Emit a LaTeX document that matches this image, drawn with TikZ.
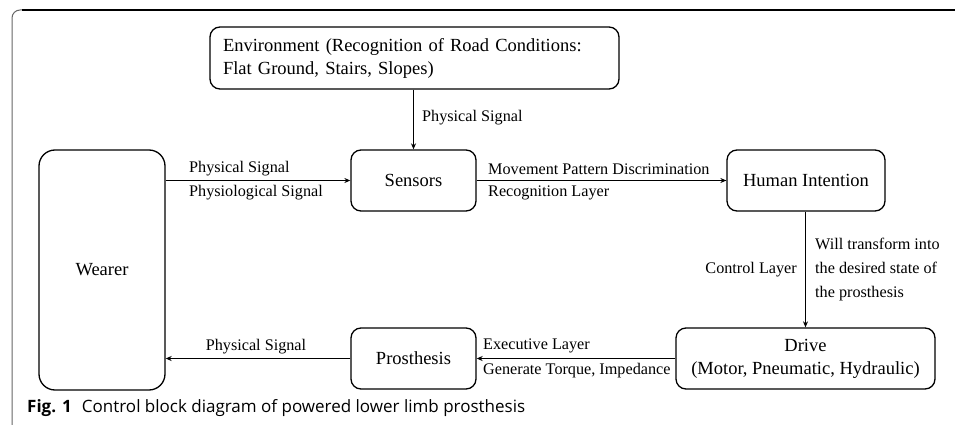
\documentclass[tikz,border=0pt]{standalone}
\usepackage{fontspec}
\setmainfont{Liberation Serif}
\newfontfamily\capfont{Open Sans}
\usetikzlibrary{arrows.meta}
\begin{document}
\begin{tikzpicture}[x=1pt,y=-1pt,
  blk/.style={draw,line width=1.3pt,rounded corners=10pt,inner sep=0pt,align=center,font=\fontsize{18.5}{23}\selectfont},
  lbl/.style={inner sep=0pt,font=\fontsize{16.2}{24}\selectfont},
  arr/.style={line width=1.2pt,-{Stealth[length=6pt,width=5pt]}}]
\useasboundingbox (0,0) rectangle (958,425);
% outer frame (top and left sides)
\draw[line width=1pt,black!60,rounded corners=8pt] (12,425) -- (12,10) -- (40,10);
\draw[line width=1.2pt,black] (22,10) -- (955,10);
% blocks
\node[blk,minimum width=409pt,minimum height=62pt,text width=383pt,align=left] (env) at (414.5,58)
  {Environment (Recognition of Road Conditions:\\Flat Ground, Stairs, Slopes)};
\node[blk,rounded corners=16pt,minimum width=126pt,minimum height=240pt] (wearer) at (102,270) {Wearer};
\node[blk,minimum width=125pt,minimum height=61pt] (sensors) at (413.5,180.5) {Sensors};
\node[blk,minimum width=158pt,minimum height=61pt] (hi) at (806,180.5) {Human Intention};
\node[blk,minimum width=259pt,minimum height=61pt] (drive) at (805.5,358.5) {Drive\\(Motor, Pneumatic, Hydraulic)};
\node[blk,minimum width=125pt,minimum height=61pt] (pros) at (413.5,358.5) {Prosthesis};
% connectors
\draw[arr] (env.south -| sensors.north) -- (sensors.north);
\draw[arr] (wearer.east |- sensors.west) -- (sensors.west);
\draw[arr] (sensors.east) -- (hi.west);
\draw[arr] (hi.south -| drive.north) -- (drive.north);
\draw[arr] (drive.west) -- (pros.east);
\draw[arr] (pros.west) -- (wearer.east |- pros.west);
% labels
\node[lbl,anchor=west] (l1) at (422,118) {Physical Signal};
\node[lbl,anchor=west] (l2) at (189,169) {Physical Signal};
\node[lbl,anchor=west] (l3) at (189,193) {Physiological Signal};
\node[lbl,anchor=west] (l4) at (488,169) {Movement Pattern Discrimination};
\node[lbl,anchor=west] (l5) at (488,193) {Recognition Layer};
\node[lbl,anchor=east] (l6) at (797,270) {Control Layer};
\node[lbl,anchor=west,align=left] (l7) at (815,270) {Will transform into\\the desired state of\\the prosthesis};
\node[lbl,anchor=west] (l8) at (483,346) {Executive Layer};
\node[lbl,anchor=west] (l9) at (483,371) {Generate Torque, Impedance};
\node[lbl] (l10) at (256,347) {Physical Signal};
% caption
\node[inner sep=0pt,anchor=base west,font=\capfont\fontsize{17}{20}\selectfont] (cap) at (27,412)
  {\textbf{Fig. 1}\hspace{0.6em}Control block diagram of powered lower limb prosthesis};
\end{tikzpicture}
\end{document}
